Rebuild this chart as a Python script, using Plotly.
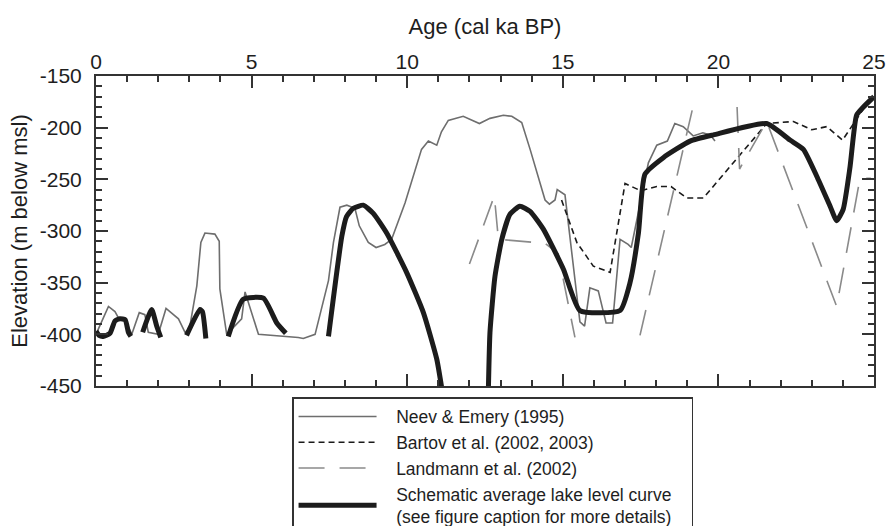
import plotly.graph_objects as go

# Neev & Emery (1995)
neev_age = [0.0, 0.40, 0.61, 0.72, 0.93, 1.15, 1.39, 1.57, 1.68, 2.00, 2.25, 2.65, 2.86, 3.00,
            3.24, 3.37, 3.50, 3.82, 3.96, 3.98, 4.20, 4.68, 4.79, 5.22, 6.50, 6.66, 7.04, 7.47,
            7.63, 7.84, 8.06, 8.32, 8.46, 8.75, 9.00, 9.28, 9.50, 9.93, 10.46, 10.68, 10.95,
            11.10, 11.32, 11.80, 12.32, 12.66, 13.09, 13.36, 13.68, 13.95, 14.43, 14.57, 14.75,
            14.82, 15.07, 15.55, 15.70, 15.87, 16.14, 16.39, 16.60, 16.84, 17.10, 17.20, 17.75,
            18.02, 18.36, 18.60, 18.87, 19.19, 19.50, 19.74, 19.89]
neev_elev = [-400, -373, -378, -384, -385, -400, -379, -381, -398, -400, -375, -385, -398, -395,
             -353, -311, -302, -303, -310, -356, -400, -385, -359, -400, -403, -404, -400, -348,
             -311, -277, -275, -278, -295, -311, -316, -313, -308, -273, -221, -213, -217,
             -204, -193, -189, -196, -191, -188, -189, -195, -221, -270, -274, -270,
             -260, -265, -388, -392, -355, -358, -389, -389, -308, -313, -316, -234,
             -217, -213, -196, -199, -208, -205, -207, -213]

# Bartov et al. (2002, 2003)
bartov_age = [14.96, 15.45, 15.98, 16.52, 17.00, 17.50, 18.02, 18.48, 18.98, 19.52, 21.55,
              22.41, 23.00, 23.48, 23.99, 24.55, 24.70]
bartov_elev = [-270, -311, -334, -340, -254, -261, -257, -257, -268, -268, -196,
               -194, -202, -199, -212, -186, -180]

# Landmann et al. (2002)  (None = break between segments)
land_age = [12.00, 12.80, 12.93, 14.43, 14.85, 15.39, None,
            17.48, 19.22, None,
            20.60, 20.68, 21.55, 23.80, 24.55, 24.90]
land_elev = [-332, -266, -308, -312, -322, -403, None,
             -401, -175, None,
             -180, -240, -194, -373, -249, -249]

# Schematic average lake level curve
sch_age = [0.00, 0.10, 0.23, 0.45, 0.61, 0.77, 0.94, 1.04, 1.12, None,
           1.50, 1.79, 1.95, 2.08, None,
           2.91, 3.34, 3.42, 3.53, None,
           4.25, 4.73, 5.38, 5.81, 6.10, None,
           7.47, 7.90, 8.05, 8.27, 8.59, 8.91, 9.34, 9.98, 10.52, 10.95, 11.11, None,
           12.61, 12.66, 12.82, 13.04, 13.30, 13.62, 13.95, 14.37, 15.02, 15.55, 16.84,
           17.16, 17.43, 17.64, 18.23, 19.09, 19.84, 21.55, 22.30, 22.73, 23.16, 23.59,
           23.80, 24.01, 24.23, 24.44, 24.66, 25.00]
sch_elev = [-397, -401, -402, -399, -387, -385, -386, -398, -402, None,
            -398, -376, -392, -403, None,
            -401, -376, -378, -404, None,
            -402, -366, -365, -389, -399, None,
            -402, -305, -286, -278, -275, -283, -302, -340, -379, -424, -452, None,
            -452, -398, -344, -308, -284, -276, -281, -298, -337, -377, -377,
            -350, -302, -245, -229, -213, -207, -196, -212, -221, -247, -276,
            -290, -279, -238, -188, -180, -170]

# tick labels
x_tickvals = [0, 5, 10, 15, 20, 25]
x_ticktext = ["0", "5", "10", "15", "20", "25"]
y_tickvals = [-450, -400, -350, -300, -250, -200, -150]
y_ticktext = ["-450", "-400", "-350", "-300", "-250", "-200", "-150"]

NB = "\u00a0"
names = [NB * 3 + "Neev & Emery (1995)",
         NB * 3 + "Bartov et al. (2002, 2003)",
         NB * 3 + "Landmann et al. (2002)",
         NB * 3 + "Schematic average lake level curve<br>" + NB * 3 +
         "(see figure caption for more details)" + NB * 3]

AX = "#333333"
TXT = "#1e1e1e"
FONT = "Liberation Sans, Arial, Helvetica, sans-serif"

fig = go.Figure()
fig.add_trace(go.Scatter(x=neev_age, y=neev_elev, mode="lines", name=names[0],
                         line=dict(color="#6e6e6e", width=1.6)))
fig.add_trace(go.Scatter(x=bartov_age, y=bartov_elev, mode="lines", name=names[1],
                         line=dict(color="#1a1a1a", width=1.6, dash="6px,4px")))
fig.add_trace(go.Scatter(x=land_age, y=land_elev, mode="lines", name=names[2],
                         connectgaps=False,
                         line=dict(color="#8a8a8a", width=1.6, dash="26px,15px")))
fig.add_trace(go.Scatter(x=sch_age, y=sch_elev, mode="lines", name=names[3],
                         connectgaps=False,
                         line=dict(color="#1c1c1c", width=5, shape="spline", smoothing=0.5)))

fig.update_layout(
    width=886, height=526,
    margin=dict(l=96, r=12, t=76, b=140, autoexpand=False),
    paper_bgcolor="white", plot_bgcolor="white",
    font=dict(family=FONT, color=TXT),
    legend=dict(x=0.252, y=-0.036, xanchor="left", yanchor="top",
                bordercolor=AX, borderwidth=1.5, bgcolor="white",
                font=dict(size=17.5, family=FONT, color=TXT),
                itemwidth=78, tracegroupgap=0),
    xaxis=dict(side="top", range=[0, 25], tickmode="array",
               tickvals=x_tickvals, ticktext=x_ticktext,
               ticks="inside", ticklen=12, tickwidth=1.5, tickcolor=AX,
               showline=True, linecolor=AX, linewidth=2, mirror="ticks",
               showgrid=False, zeroline=False,
               tickfont=dict(size=21, family=FONT, color=TXT),
               ticklabelstandoff=-3,
               minor=dict(dtick=1, tick0=0, ticks="inside", ticklen=6, tickwidth=1.5,
                          tickcolor=AX, showgrid=False),
               title=dict(text="Age (cal ka BP)", font=dict(size=22, family=FONT, color=TXT),
                          standoff=9)),
    yaxis=dict(range=[-450, -150], tickmode="array",
               tickvals=y_tickvals, ticktext=y_ticktext,
               ticks="inside", ticklen=12, tickwidth=1.5, tickcolor=AX,
               showline=True, linecolor=AX, linewidth=2, mirror="ticks",
               showgrid=False, zeroline=False,
               tickfont=dict(size=21, family=FONT, color=TXT),
               ticklabelstandoff=8,
               minor=dict(dtick=10, tick0=-450, ticks="inside", ticklen=6, tickwidth=1.5,
                          tickcolor=AX, showgrid=False),
               title=dict(text="Elevation (m below msl)", font=dict(size=22, family=FONT, color=TXT),
                          standoff=6)),
)

fig.write_html("out.html", config={"displayModeBar": False},
               post_script="document.body.style.margin='0px';document.body.style.overflow='hidden';")
